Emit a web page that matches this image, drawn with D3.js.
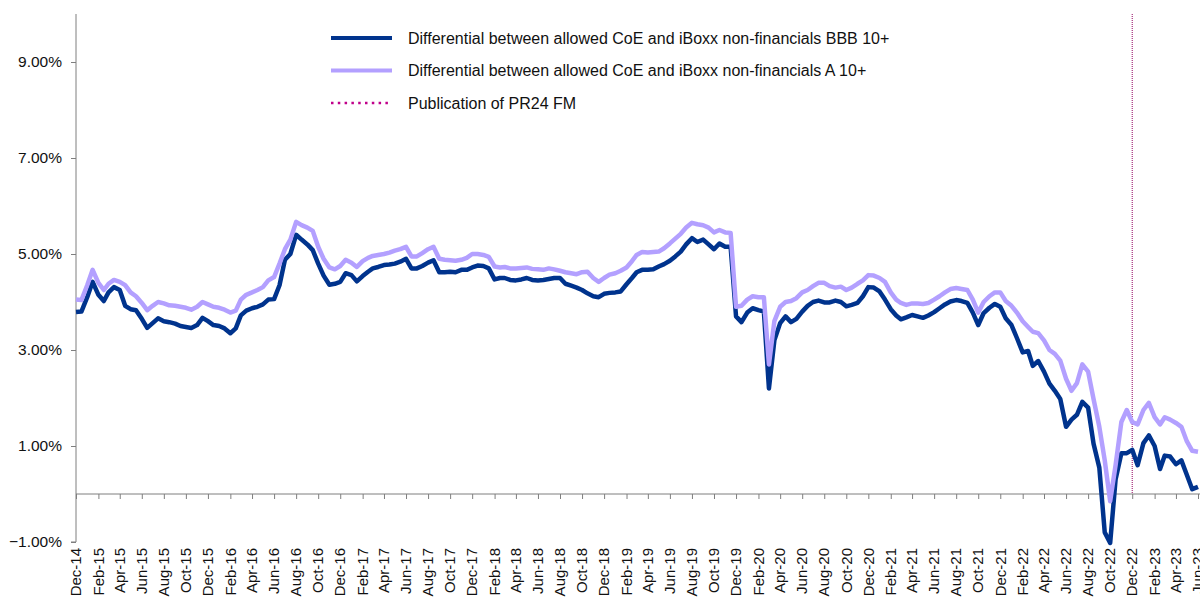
<!DOCTYPE html>
<html>
<head>
<meta charset="utf-8">
<script src="https://cdn.jsdelivr.net/npm/d3@7"></script>
<style>
  body { margin: 0; background: #fff; }
  svg { display: block; font-family: "Liberation Sans", Arial, sans-serif; }
</style>
</head>
<body>
<div id="chart"></div>
<script>
const W = 1200, H = 601;

// half-monthly observations from Dec-14 to Jun-23 (1st and 16th of each month)
const bbb = [
  3.79, 3.80, 4.10, 4.42, 4.15, 4.02, 4.20, 4.31, 4.25, 3.92,
  3.85, 3.83, 3.65, 3.46, 3.56, 3.66, 3.60, 3.58, 3.55, 3.50,
  3.48, 3.46, 3.52, 3.67, 3.60, 3.52, 3.50, 3.45, 3.35, 3.45,
  3.72, 3.82, 3.87, 3.90, 3.95, 4.05, 4.06, 4.35, 4.88, 5.00,
  5.40, 5.30, 5.20, 5.08, 4.80, 4.55, 4.36, 4.38, 4.42, 4.60,
  4.56, 4.43, 4.54, 4.63, 4.70, 4.73, 4.77, 4.78, 4.80, 4.84,
  4.90, 4.70, 4.70, 4.75, 4.82, 4.87, 4.62, 4.62, 4.63, 4.62,
  4.67, 4.67, 4.72, 4.76, 4.75, 4.70, 4.47, 4.50, 4.50, 4.46,
  4.45, 4.47, 4.50, 4.46, 4.45, 4.46, 4.48, 4.50, 4.50, 4.38,
  4.34, 4.30, 4.25, 4.18, 4.12, 4.10, 4.17, 4.19, 4.20, 4.22,
  4.37, 4.50, 4.62, 4.67, 4.67, 4.68, 4.74, 4.79, 4.86, 4.95,
  5.05, 5.20, 5.33, 5.25, 5.30, 5.20, 5.10, 5.22, 5.15, 5.15,
  3.70, 3.58, 3.78, 3.87, 3.83, 3.80, 2.20, 3.20, 3.56, 3.70,
  3.58, 3.65, 3.80, 3.92, 4.00, 4.03, 3.99, 3.99, 4.03, 4.00,
  3.91, 3.94, 3.98, 4.12, 4.31, 4.30, 4.22, 4.05, 3.85, 3.72,
  3.64, 3.68, 3.73, 3.70, 3.67, 3.72, 3.79, 3.87, 3.95, 4.01,
  4.04, 4.02, 3.98, 3.78, 3.52, 3.77, 3.88, 3.96, 3.90, 3.66,
  3.52, 3.25, 2.95, 2.98, 2.67, 2.77, 2.55, 2.30, 2.15, 1.98,
  1.40, 1.55, 1.65, 1.92, 1.80, 1.05, 0.55, -0.80, -1.02, 0.30,
  0.85, 0.85, 0.92, 0.60, 1.06, 1.22, 1.00, 0.52, 0.80, 0.78,
  0.62, 0.70, 0.40, 0.10, 0.15
];
const singleA = [
  4.05, 4.04, 4.35, 4.67, 4.40, 4.25, 4.38, 4.46, 4.42, 4.35,
  4.20, 4.12, 3.98, 3.83, 3.92, 4.00, 3.97, 3.93, 3.92, 3.90,
  3.88, 3.84, 3.90, 4.00, 3.95, 3.90, 3.88, 3.84, 3.78, 3.82,
  4.05, 4.15, 4.20, 4.25, 4.31, 4.45, 4.52, 4.80, 5.10, 5.30,
  5.67, 5.60, 5.55, 5.48, 5.15, 4.90, 4.72, 4.68, 4.75, 4.88,
  4.82, 4.73, 4.85, 4.92, 4.96, 4.98, 5.00, 5.03, 5.07, 5.10,
  5.15, 4.95, 4.95, 5.02, 5.10, 5.15, 4.90, 4.88, 4.87, 4.86,
  4.88, 4.92, 5.00, 5.00, 4.98, 4.94, 4.74, 4.72, 4.73, 4.70,
  4.70, 4.71, 4.72, 4.69, 4.68, 4.67, 4.70, 4.68, 4.65, 4.62,
  4.60, 4.58, 4.62, 4.63, 4.50, 4.42, 4.50, 4.57, 4.60, 4.65,
  4.72, 4.85, 4.98, 5.04, 5.03, 5.04, 5.05, 5.12, 5.22, 5.32,
  5.42, 5.55, 5.65, 5.62, 5.60, 5.55, 5.45, 5.50, 5.45, 5.44,
  3.90, 3.92, 4.05, 4.12, 4.10, 4.10, 2.70, 3.60, 3.90, 4.00,
  4.02, 4.08, 4.20, 4.25, 4.33, 4.40, 4.40, 4.33, 4.30, 4.32,
  4.25, 4.30, 4.38, 4.45, 4.56, 4.55, 4.50, 4.42, 4.20, 4.05,
  3.98, 3.94, 3.97, 3.97, 3.96, 3.98, 4.05, 4.12, 4.20, 4.27,
  4.29, 4.27, 4.25, 4.05, 3.78, 4.00, 4.12, 4.20, 4.20, 4.02,
  3.92, 3.78, 3.60, 3.48, 3.38, 3.35, 3.20, 3.00, 2.92, 2.78,
  2.40, 2.15, 2.31, 2.70, 2.55, 1.98, 1.40, 0.70, -0.15, 0.60,
  1.50, 1.75, 1.50, 1.45, 1.75, 1.90, 1.60, 1.45, 1.60, 1.55,
  1.48, 1.40, 1.10, 0.90, 0.88
];

const yTicks = [9, 7, 5, 3, 1, -1];
const pubDate = new Date(2022, 11, 1);
const seriesNames = [
  "Differential between allowed CoE and iBoxx non-financials BBB 10+",
  "Differential between allowed CoE and iBoxx non-financials A 10+",
  "Publication of PR24 FM"
];
const colors = ["#00338d", "#b3a0ff", "#93005f"];

const start = new Date(2014, 11, 1);
const end = new Date(2023, 5, 1);
const dates = bbb.map((v, i) => {
  let d = d3.timeMonth.offset(start, Math.floor(i / 2));
  return i % 2 ? d3.timeDay.offset(d, 15) : d;
});

const x = d3.scaleTime().domain([start, end]).range([76, 1198]);
const y = d3.scaleLinear().domain([-1, 10]).range([542, 14]);

const svg = d3.select("#chart").append("svg")
  .attr("width", W).attr("height", H);

// y axis
const yAxis = svg.append("g")
  .attr("transform", "translate(76,0)")
  .call(d3.axisLeft(y).tickValues(yTicks).tickSize(5).tickSizeOuter(0)
    .tickFormat(d => d3.format(".2f")(d) + "%"));
yAxis.select(".domain").attr("stroke", "#7f7f7f").attr("d", "M0," + y(10) + "V" + y(-1) + "H-5");
yAxis.selectAll(".tick line").attr("stroke", "#7f7f7f");
yAxis.selectAll(".tick text").attr("x", -14).attr("fill", "#111").attr("font-size", 15.5);

// x axis on zero line, tick every two months starting Dec-14
const xTicks = d3.timeMonth.range(start, d3.timeDay.offset(end, 1), 2);
const xAxis = svg.append("g")
  .attr("transform", "translate(0," + y(0) + ")")
  .call(d3.axisBottom(x).tickValues(xTicks).tickSize(5).tickSizeOuter(0).tickFormat(""));
xAxis.select(".domain").attr("stroke", "#7f7f7f").attr("d", "M76,0H1200");
xAxis.selectAll(".tick line").attr("stroke", "#7f7f7f");

svg.append("g").selectAll("text")
  .data(xTicks)
  .join("text")
  .attr("transform", d => "translate(" + x(d) + ",548) rotate(-90)")
  .attr("text-anchor", "end")
  .attr("dy", "0.35em")
  .attr("font-size", 15)
  .attr("fill", "#111")
  .text(d3.timeFormat("%b-%y"));

// publication line
svg.append("line")
  .attr("x1", x(pubDate)).attr("x2", x(pubDate))
  .attr("y1", y(10)).attr("y2", y(0))
  .attr("stroke", colors[2]).attr("stroke-width", 1)
  .attr("stroke-dasharray", "1,1");

const line = d3.line().x((d, i) => x(dates[i])).y(d => y(d));

svg.append("path")
  .attr("d", line(bbb))
  .attr("fill", "none").attr("stroke", colors[0])
  .attr("stroke-width", 4.5).attr("stroke-linejoin", "round");

svg.append("path")
  .attr("d", line(singleA))
  .attr("fill", "none").attr("stroke", colors[1])
  .attr("stroke-width", 4.5).attr("stroke-linejoin", "round");

// legend
const legend = svg.append("g").attr("transform", "translate(331,38)");
seriesNames.forEach((name, i) => {
  const g = legend.append("g").attr("transform", "translate(0," + (i * 32.5) + ")");
  g.append("line")
    .attr("x1", 0).attr("x2", 61)
    .attr("stroke", i == 2 ? "#c0008a" : colors[i])
    .attr("stroke-width", i == 2 ? 2.5 : 4)
    .attr("stroke-dasharray", i == 2 ? "2.5,4.3" : null);
  g.append("text")
    .attr("x", 77).attr("dy", "0.35em")
    .attr("font-size", 16).attr("fill", "#111")
    .text(name);
});
</script>
</body>
</html>
